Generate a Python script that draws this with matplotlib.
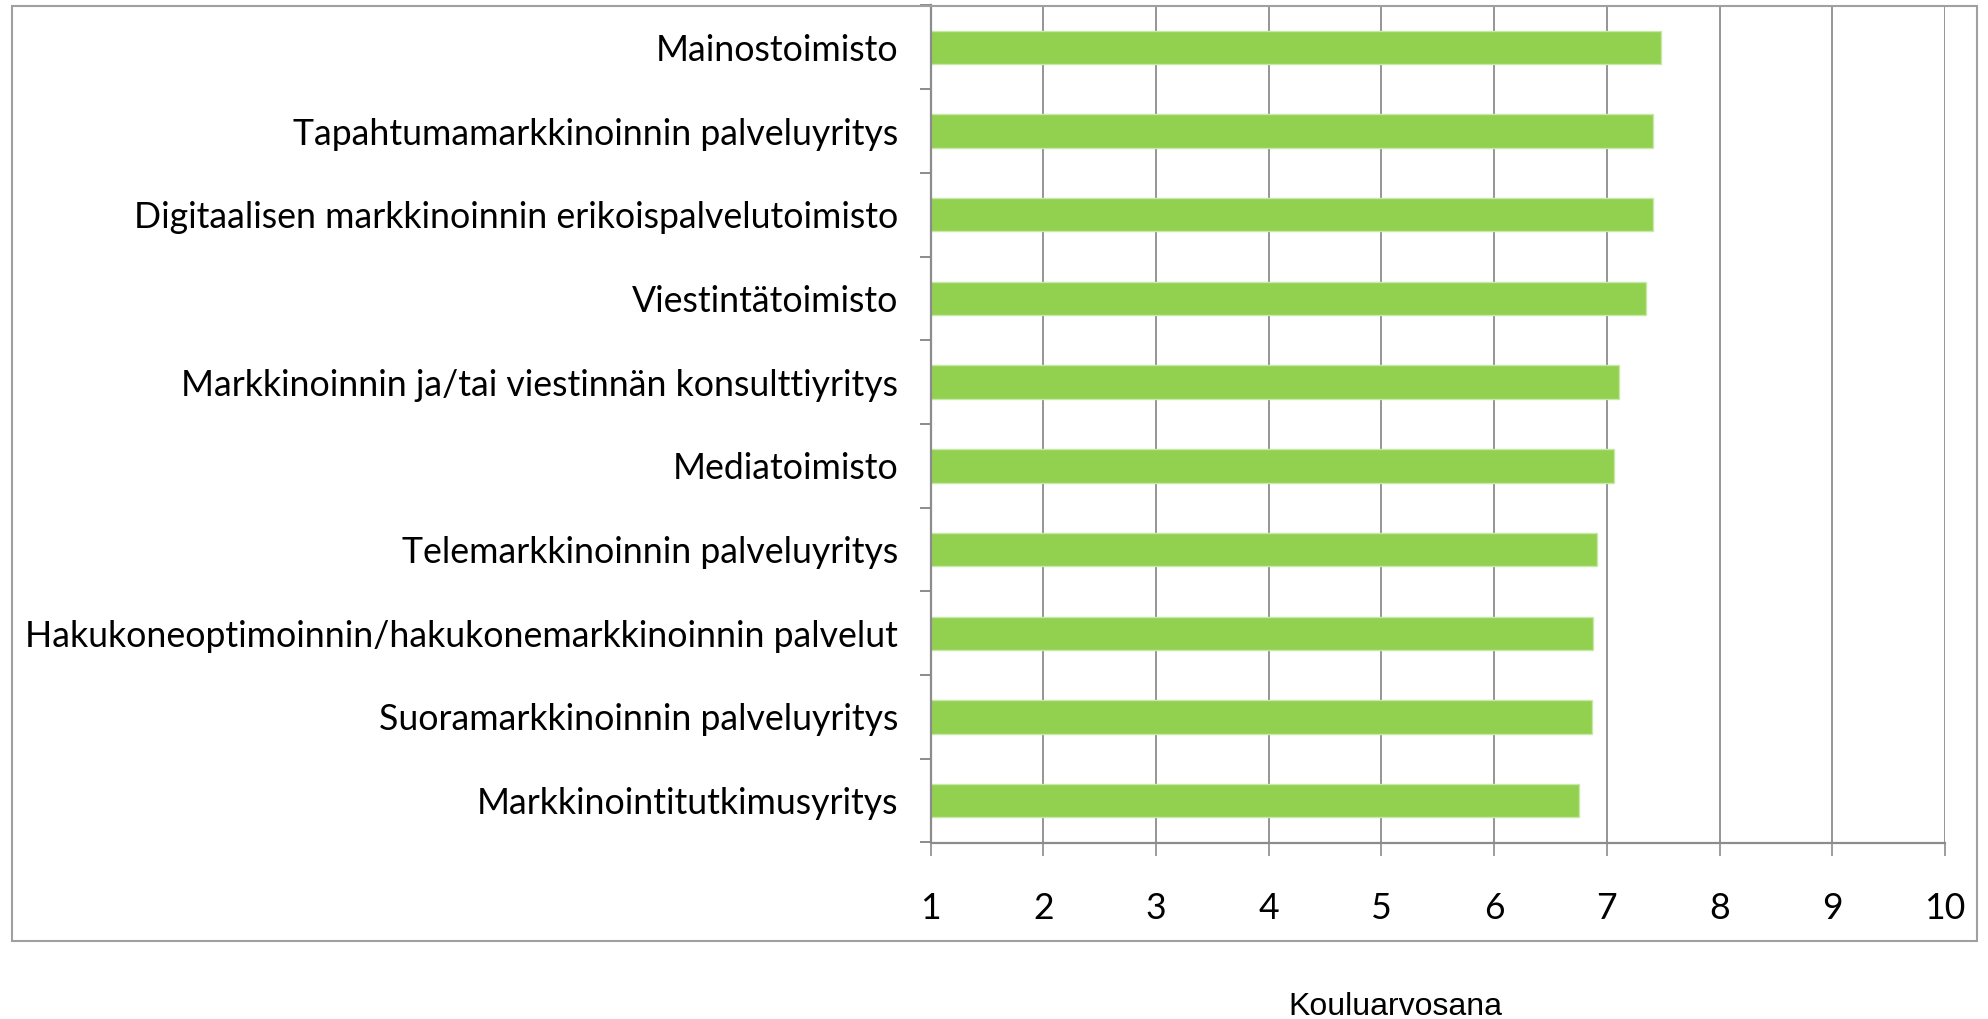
import matplotlib
matplotlib.use("Agg")
import matplotlib.pyplot as plt
from matplotlib.patches import Rectangle
from matplotlib.ticker import FixedLocator

categories = [
    "Mainostoimisto",
    "Tapahtumamarkkinoinnin palveluyritys",
    "Digitaalisen markkinoinnin erikoispalvelutoimisto",
    "Viestintätoimisto",
    "Markkinoinnin ja/tai viestinnän konsulttiyritys",
    "Mediatoimisto",
    "Telemarkkinoinnin palveluyritys",
    "Hakukoneoptimoinnin/hakukonemarkkinoinnin palvelut",
    "Suoramarkkinoinnin palveluyritys",
    "Markkinointitutkimusyritys",
]
values = [7.48, 7.41, 7.41, 7.35, 7.11, 7.06, 6.91, 6.88, 6.87, 6.75]
xticks = [1, 2, 3, 4, 5, 6, 7, 8, 9, 10]
xlabel = "Kouluarvosana"

W, H = 1988, 1019
fig = plt.figure(figsize=(W / 100, H / 100), dpi=100)

label_font = ["Lato", "DejaVu Sans"]
grid_col = "#8c8c8c"

# fit label font size so the longest label spans ~875 px
renderer = fig.canvas.get_renderer()
longest = max(categories, key=len)
t = fig.text(0, 0, longest, fontsize=25, family=label_font)
w = t.get_window_extent(renderer).width
t.remove()
fs = 25 * 875.0 / w

left, right = 930.5 / W, 1945 / W
top, bottom = 1 - 5.5 / H, 1 - 842.5 / H
ax = fig.add_axes([left, bottom, right - left, top - bottom])

y = list(range(len(categories)))
ax.barh(y, values, height=0.4, color="#92D050", edgecolor="#C8E8A8",
        linewidth=1.0, zorder=3)

ax.set_xlim(1, 10)
ax.set_ylim(len(categories) - 0.5, -0.5)

ax.set_xticks(xticks)
ax.set_xticklabels([str(v) for v in xticks], fontsize=fs, family=label_font)
ax.set_yticks(y)
ax.set_yticklabels(categories, fontsize=fs, family=label_font)
ax.yaxis.set_minor_locator(FixedLocator([i - 0.5 for i in range(len(categories) + 1)]))

ax.tick_params(axis="y", which="major", length=0, pad=23.4)
ax.tick_params(axis="y", which="minor", length=8, width=1.4, color=grid_col, direction="out")
ax.tick_params(axis="x", which="major", length=9.4, width=1.2, color=grid_col,
               direction="out", pad=26)

ax.grid(axis="x", color=grid_col, linewidth=1.3, zorder=0)
ax.set_axisbelow(True)
for s in ["top", "right"]:
    ax.spines[s].set_visible(False)
for s in ["left", "bottom"]:
    ax.spines[s].set_color(grid_col)
    ax.spines[s].set_linewidth(1.6)
    ax.spines[s].set_zorder(4)

# outer chart border
x0, y0 = 11.7 / W, 1 - 941 / H
fig.patches.append(Rectangle((x0, y0), 1977 / W - x0, (1 - 5.5 / H) - y0,
                             transform=fig.transFigure, fill=False,
                             edgecolor="#a0a0a0", linewidth=1.5))

fig.text(1395 / W, 1 - 1015 / H, xlabel, ha="center", va="baseline",
         fontsize=23, family=["Liberation Sans", "DejaVu Sans"])

fig.savefig("out.png", dpi=100)
